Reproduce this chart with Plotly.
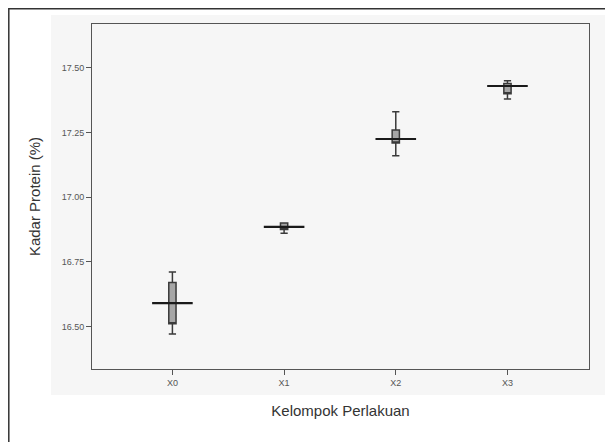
import plotly.graph_objects as go

categories = ["X0", "X1", "X2", "X3"]
minimum = [16.47, 16.86, 17.16, 17.38]
q1 = [16.51, 16.875, 17.21, 17.40]
median = [16.59, 16.885, 17.225, 17.43]
q3 = [16.67, 16.90, 17.26, 17.44]
maximum = [16.71, 16.90, 17.33, 17.45]
y_ticks = [16.50, 16.75, 17.00, 17.25, 17.50]
y_tick_labels = ["16.50", "16.75", "17.00", "17.25", "17.50"]

# page body has an 8px margin; compensate so plot area sits at 92..589 x 24..369
W, H = 605, 434
L, R, T, B = 84, 24, 16, 73
pw, ph = W - L - R, H - T - B
off = 8

def px(x):
    return (x - off - L) / pw

def py(y):
    return (H - B - (y - off)) / ph

fig = go.Figure()
fig.add_trace(go.Box(
    x=categories, q1=q1, median=q1, q3=q3,
    lowerfence=minimum, upperfence=maximum,
    width=0.065, whiskerwidth=1,
    fillcolor="#a6a6a6", line=dict(color="#3a3a3a", width=1.5),
    boxpoints=False, showlegend=False, hoverinfo="skip",
))
fig.add_trace(go.Scatter(
    x=categories, y=median, mode="markers",
    marker=dict(symbol="line-ew", size=29, line=dict(color="#1a1a1a", width=2.2)),
    showlegend=False, hoverinfo="skip",
))

fig.update_layout(
    width=W, height=H,
    margin=dict(l=L, r=R, t=T, b=B),
    paper_bgcolor="white",
    plot_bgcolor="#eeeeee",
    font=dict(family="Liberation Sans, Arial, sans-serif", color="#333"),
    shapes=[
        dict(type="rect", xref="paper", yref="paper",
             x0=px(51), x1=px(606), y0=py(395), y1=py(15),
             fillcolor="#f6f6f6", line=dict(width=0), layer="below"),
        dict(type="rect", xref="paper", yref="paper",
             x0=px(8.8), x1=px(700), y0=py(700), y1=py(8.8),
             fillcolor="rgba(0,0,0,0)", line=dict(color="#333", width=1.5)),
    ],
)
fig.update_xaxes(
    type="category", categoryorder="array", categoryarray=categories,
    range=[-0.72, 3.73],
    showline=True, linecolor="#555", linewidth=1, mirror=True,
    ticks="outside", ticklen=5, tickcolor="#555",
    tickfont=dict(size=9, color="#555"),
    showgrid=False, zeroline=False,
    title=dict(text="Kelompok Perlakuan", font=dict(size=15, color="#333"), standoff=18),
)
fig.update_yaxes(
    range=[16.335, 17.67],
    tickvals=y_ticks, ticktext=y_tick_labels,
    showline=True, linecolor="#555", linewidth=1, mirror=True,
    ticks="outside", ticklen=5, tickcolor="#555",
    tickfont=dict(size=9, color="#555"),
    showgrid=False, zeroline=False,
    title=dict(text="Kadar Protein (%)", font=dict(size=15, color="#333"), standoff=17),
)
fig.write_html("out.html")
